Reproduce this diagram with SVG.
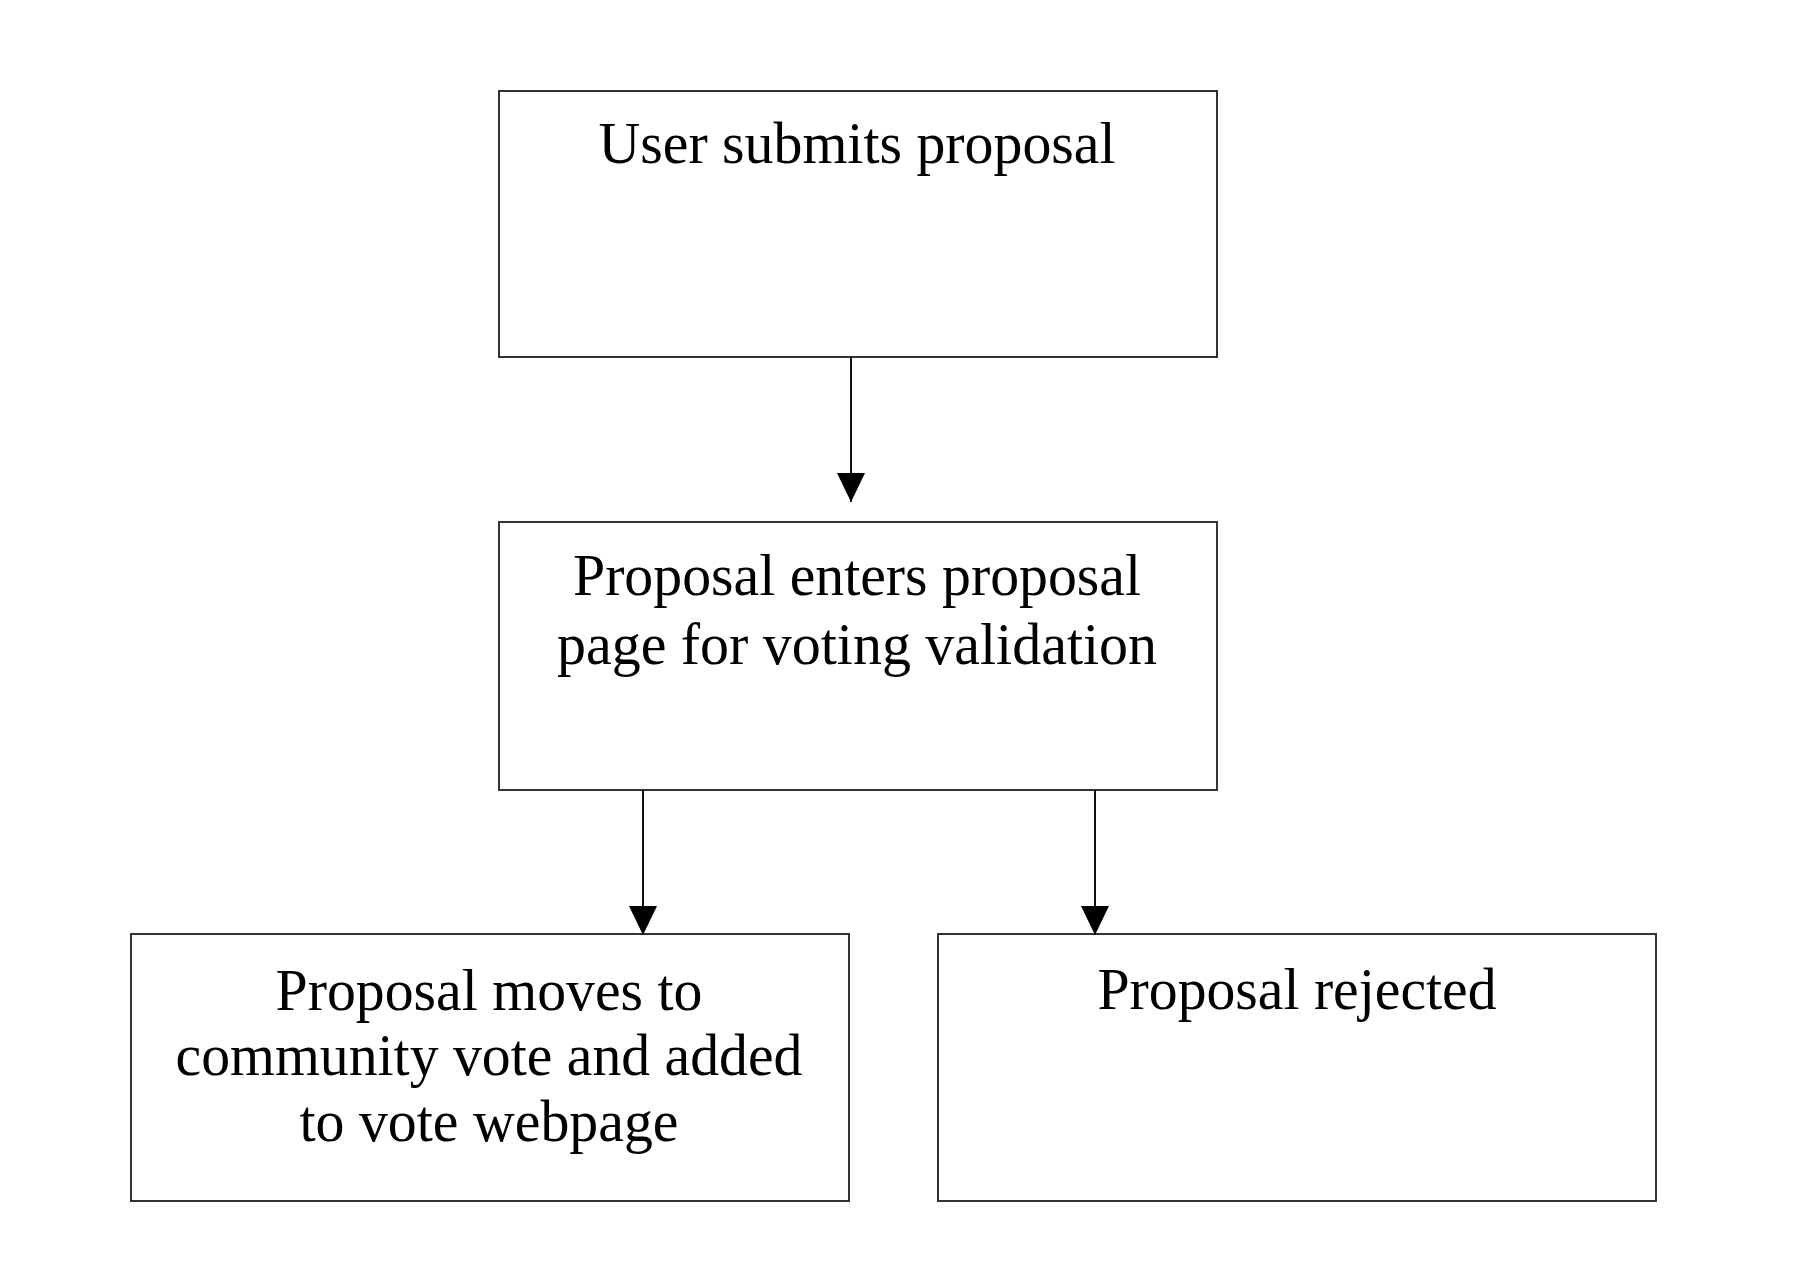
<svg xmlns="http://www.w3.org/2000/svg" width="1798" height="1262" viewBox="0 0 1798 1262">
  <style>
    .box { fill: #ffffff; stroke: #333333; stroke-width: 2; }
    .lbl { font-family: "Liberation Serif", "Times New Roman", serif; font-size: 60px; fill: #000000; text-anchor: middle; }
    .conn { stroke: #111111; stroke-width: 2; fill: none; }
  </style>
  <defs>
    <marker id="arrow" markerUnits="userSpaceOnUse" markerWidth="30" markerHeight="30" refX="29" refY="14" orient="auto">
      <path d="M0,0 L29,14 L0,28 z" fill="#000000"/>
    </marker>
  </defs>
  <rect width="1798" height="1262" fill="#ffffff"/>

  <g id="node-submit">
    <rect class="box" x="499" y="91" width="718" height="266"/>
    <text class="lbl" x="857" y="163" textLength="517" lengthAdjust="spacingAndGlyphs">User submits proposal</text>
  </g>

  <g id="node-validation">
    <rect class="box" x="499" y="522" width="718" height="268"/>
    <text class="lbl" x="857" y="595" textLength="568" lengthAdjust="spacingAndGlyphs">Proposal enters proposal</text>
    <text class="lbl" x="857" y="664" textLength="600" lengthAdjust="spacingAndGlyphs">page for voting validation</text>
  </g>

  <g id="node-community-vote">
    <rect class="box" x="131" y="934" width="718" height="267"/>
    <text class="lbl" x="489" y="1010" textLength="427" lengthAdjust="spacingAndGlyphs">Proposal moves to</text>
    <text class="lbl" x="489" y="1075" textLength="627" lengthAdjust="spacingAndGlyphs">community vote and added</text>
    <text class="lbl" x="489" y="1141" textLength="379" lengthAdjust="spacingAndGlyphs">to vote webpage</text>
  </g>

  <g id="node-rejected">
    <rect class="box" x="938" y="934" width="718" height="267"/>
    <text class="lbl" x="1297" y="1009" textLength="399" lengthAdjust="spacingAndGlyphs">Proposal rejected</text>
  </g>

  <g id="connectors">
    <line class="conn" x1="851" y1="357" x2="851" y2="502" marker-end="url(#arrow)"/>
    <line class="conn" x1="643" y1="790" x2="643" y2="935" marker-end="url(#arrow)"/>
    <line class="conn" x1="1095" y1="790" x2="1095" y2="935" marker-end="url(#arrow)"/>
  </g>
</svg>
